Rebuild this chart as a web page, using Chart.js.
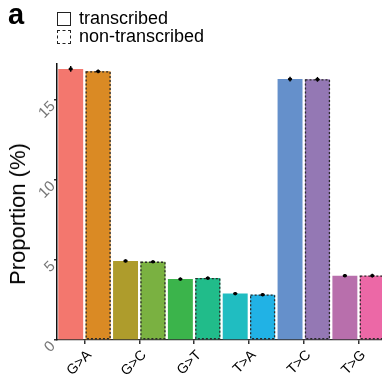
<!DOCTYPE html>
<html>
<head>
<meta charset="utf-8">
<script src="https://cdn.jsdelivr.net/npm/chart.js@4"></script>
<style>
  html, body { margin: 0; padding: 0; background: #fff; }
  #wrap { position: relative; width: 382px; height: 387px; overflow: hidden; font-family: "Liberation Sans", Arial, sans-serif; }
  #chart { position: absolute; left: 0; top: 0; }
  .panel { position: absolute; left: 8px; top: -2px; font-size: 29px; font-weight: bold; }
  .leg { position: absolute; left: 57px; font-size: 18px; line-height: 15px; display: flex; align-items: center; }
  .leg span.box { display: inline-block; width: 12px; height: 12px; border: 1.3px solid #222; margin-right: 8px; }
  .leg span.box.dash { border-style: dashed; }
  .ytitle { position: absolute; left: 18px; top: 214px; font-size: 22px; white-space: nowrap;
            transform: translate(-50%, -50%) rotate(-90deg); }
</style>
</head>
<body>
<div id="wrap">
  <canvas id="chart" width="386" height="387"></canvas>
  <div class="panel">a</div>
  <div class="leg" style="top:11px"><span class="box"></span>transcribed</div>
  <div class="leg" style="top:29px"><span class="box dash"></span>non-transcribed</div>
  <div class="ytitle">Proportion (%)</div>
</div>
<script>
const categories = ['G>A', 'G>C', 'G>T', 'T>A', 'T>C', 'T>G']
const transcribed = [16.94, 4.94, 3.81, 2.90, 16.31, 4.02]
const nonTranscribed = [16.79, 4.89, 3.87, 2.83, 16.29, 4.02]
const transcribedErr = [0.18, 0.1, 0.1, 0.1, 0.15, 0.1]
const nonTranscribedErr = [0.12, 0.1, 0.1, 0.1, 0.15, 0.12]
const transcribedColors = ['#F3776E', '#AE9C2C', '#3BB44B', '#20BDC1', '#6590CB', '#B86FAC']
const nonTranscribedColors = ['#DA8A24', '#7AB141', '#21BC8A', '#21B2E5', '#9478B4', '#EC68A6']
const yTicks = [0, 5, 10, 15]

const errors = [transcribedErr, nonTranscribedErr]

const extras = {
    id: 'extras',
    afterDatasetsDraw(chart) {
        const ctx = chart.ctx
        const y = chart.scales.y
        // dashed outline for non-transcribed bars
        chart.getDatasetMeta(1).data.forEach(bar => {
            const w = bar.width
            ctx.save()
            ctx.strokeStyle = '#2a2a2a'
            ctx.lineWidth = 1.3
            ctx.setLineDash([2, 2])
            ctx.strokeRect(bar.x - w / 2 + 0.5, bar.y + 0.5, w - 1, bar.base - bar.y - 1)
            ctx.restore()
        })
        // error bars
        chart.data.datasets.forEach((ds, di) => {
            chart.getDatasetMeta(di).data.forEach((bar, i) => {
                const v = ds.data[i]
                const e = errors[di][i]
                const top = y.getPixelForValue(v + e)
                const bot = y.getPixelForValue(v - e)
                const mid = y.getPixelForValue(v)
                ctx.save()
                ctx.strokeStyle = '#000'
                ctx.lineWidth = 1.4
                ctx.beginPath()
                ctx.moveTo(bar.x, top)
                ctx.lineTo(bar.x, bot)
                ctx.stroke()
                ctx.fillStyle = '#000'
                ctx.beginPath()
                ctx.ellipse(bar.x, mid, 2.2, 1.6, 0, 0, Math.PI * 2)
                ctx.fill()
                ctx.restore()
            })
        })
    }
}

new Chart(document.getElementById('chart').getContext('2d'), {
    type: 'bar',
    data: {
        labels: categories,
        datasets: [
            { label: 'transcribed', data: transcribed, backgroundColor: transcribedColors, borderWidth: 0 },
            { label: 'non-transcribed', data: nonTranscribed, backgroundColor: nonTranscribedColors, borderWidth: 0 }
        ]
    },
    options: {
        responsive: false,
        animation: false,
        events: [],
        layout: { autoPadding: false, padding: { top: 64, right: 0, left: 0, bottom: 0 } },
        plugins: { legend: { display: false }, tooltip: { enabled: false } },
        datasets: { bar: { categoryPercentage: 1, barPercentage: 0.91 } },
        scales: {
            x: {
                grid: { offset: false, drawOnChartArea: false, drawTicks: true, tickLength: 4, color: '#333', lineWidth: 1.5 },
                border: { display: true, color: '#333', width: 1.2 },
                ticks: {
                    minRotation: 45, maxRotation: 45, color: '#000', padding: 3, labelOffset: 5,
                    font: { family: '"Liberation Sans", Arial, sans-serif', size: 14 }
                },
                afterFit(s) { s.height = 47 }
            },
            y: {
                min: 0,
                max: 17.25,
                afterBuildTicks(s) { s.ticks = yTicks.map(v => ({ value: v })) },
                grid: { drawOnChartArea: false, drawTicks: true, tickLength: 3, color: '#333', lineWidth: 1.5 },
                border: { display: true, color: '#111', width: 1.5 },
                ticks: {
                    minRotation: 45, maxRotation: 45, color: '#777', padding: 1, labelOffset: 4,
                    font: { family: '"Liberation Sans", Arial, sans-serif', size: 15 }
                },
                afterFit(s) { s.width = 57 }
            }
        }
    },
    plugins: [extras]
})
</script>
</body>
</html>
